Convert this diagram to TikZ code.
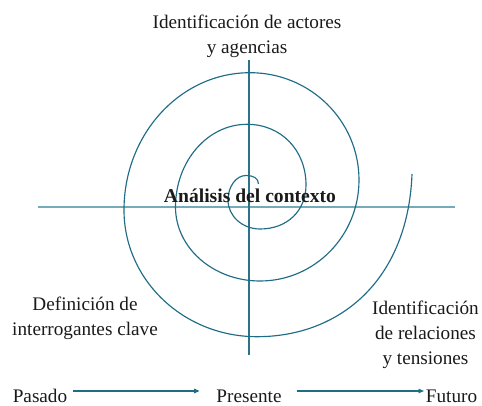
\documentclass[tikz,border=0pt]{standalone}
\usepackage{fontspec}
\setmainfont{Liberation Serif}
\usetikzlibrary{arrows.meta}
\definecolor{spiralc}{HTML}{1E6C85}
\definecolor{axisv}{HTML}{2C7389}
\definecolor{axish}{HTML}{74AABA}
\definecolor{txt}{HTML}{1A1A1A}
\tikzset{
  lbl/.style={font=\fontsize{19.2}{25}\selectfont, text=txt, inner sep=0pt, align=center, anchor=base},
  ctr/.style={font=\fontsize{19.6}{25}\selectfont\bfseries, text=txt, inner sep=0pt, anchor=base},
  spir/.style={draw=spiralc, line width=1.15pt},
  vaxis/.style={draw=axisv, line width=1.3pt},
  haxis/.style={draw=axish, line width=2pt},
  arr/.style={draw=spiralc, line width=1.1pt, -{Triangle[length=5.5pt,width=4.5pt]}}
}
\begin{document}
\begin{tikzpicture}[x=1pt,y=-1pt]
\useasboundingbox (0,0) rectangle (482,406);
% axes
\coordinate (vt) at (249,60);
\coordinate (vb) at (249,355);
\coordinate (hl) at (38,207);
\coordinate (hr) at (455,207);
\draw[haxis] (hl) -- (hr);
\draw[vaxis] (vt) -- (vb);
% spiral
\draw[spir] (258.5,184)
  .. controls (258.5,178) and (253,175.5) .. (246,175.5)
  .. controls (236.1,175.5) and (228,186.5) .. (228,200)
  .. controls (228,216) and (242.3,229) .. (260,229)
  .. controls (287,229) and (306,211) .. (306,185)
  .. controls (306,150) and (281,124.3) .. (247,124.3)
  .. controls (207.5,124.3) and (175.5,161.3) .. (175.5,207)
  .. controls (175.5,247.9) and (213.3,281) .. (260,281)
  .. controls (314.7,281) and (359,235.8) .. (359,180)
  .. controls (359,120.7) and (310.2,72.7) .. (250,72.7)
  .. controls (180.4,72.7) and (124,134.2) .. (124,210)
  .. controls (124,280) and (183.5,336.7) .. (257,336.7)
  .. controls (340,336.7) and (408,280) .. (412,174);
% labels
\node[lbl] (top) at (247,53.3) {Identificación de actores\\y agencias};
\node[lbl] (left) at (85,335) {Definición de\\interrogantes clave};
\node[lbl] (right) at (425.5,364.5) {Identificación\\de relaciones\\y tensiones};
\node[ctr] (center) at (250,202.7) {Análisis del contexto};
\node[lbl] (pasado) at (40,402) {Pasado};
\node[lbl] (presente) at (249,402) {Presente};
\node[lbl] (futuro) at (451.5,402) {Futuro};
\draw[arr] ([shift={(6,-11)}]pasado.base east) -- ([shift={(-16.7,-11)}]presente.base west);
\draw[arr] ([shift={(15,-11)}]presente.base east) -- ([shift={(-1.7,-11)}]futuro.base west);
\end{tikzpicture}
\end{document}
